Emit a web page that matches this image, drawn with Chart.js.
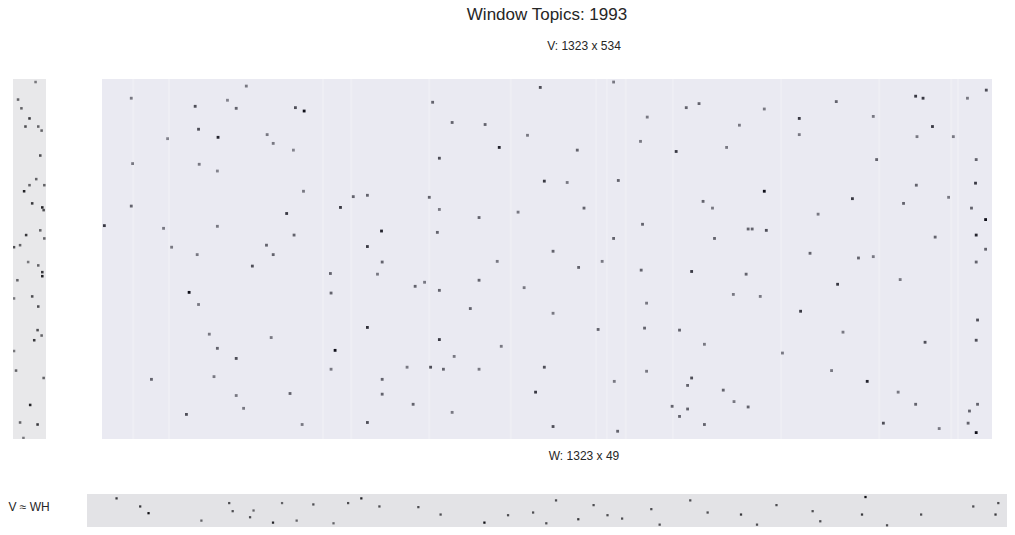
<!DOCTYPE html>
<html>
<head>
<meta charset="utf-8">
<title>Window Topics: 1993</title>
<script src="https://cdn.jsdelivr.net/npm/chart.js@4.4.1/dist/chart.umd.min.js"></script>
<style>
  body { margin: 0; width: 1015px; height: 535px; background: #fff; position: relative; overflow: hidden;
         font-family: "Liberation Sans", Arial, sans-serif; color: #262626; }
  .txt { position: absolute; white-space: nowrap; transform: translate(-50%, -50%); }
  canvas { position: absolute; }
</style>
</head>
<body>
<div class="txt" style="left:547px;top:15px;font-size:17px">Window Topics: 1993</div>
<div class="txt" style="left:584px;top:46px;font-size:12px">V: 1323 x 534</div>
<div class="txt" style="left:584px;top:456px;font-size:12px">W: 1323 x 49</div>
<div class="txt" style="left:29px;top:507px;font-size:12px">V ≈ WH</div>

<canvas id="wChart" style="left:13px;top:79px;width:33px;height:360px" width="33" height="360"></canvas>
<canvas id="vChart" style="left:102px;top:79px;width:890px;height:360px" width="890" height="360"></canvas>
<canvas id="hChart" style="left:87px;top:494px;width:920px;height:33px" width="920" height="33"></canvas>

<script>
// matrix shapes
const vShape = [1323, 534]; // columns, rows
const wShape = [49, 534];
const hShape = [1323, 49];

// strongest cells: [column, row, intensity 0..1]
const vDots = [
  [300,47,1],[199,43,.6],[172,86,.9],[287,42,.7],[245,82,.5],[143,74,.7],[43,28,.5],[45,125,.5],
  [144,126,.5],[284,105,.45],[97,88,.45],[186,31,.45],[138,40,.7],[214,10,.5],[254,95,.5],[171,136,.45],
  [590,101,.9],[569,67,.6],[853,107,.8],[651,12,.7],[868,42,.6],[887,36,.6],[501,117,.7],[706,105,.6],
  [491,34,.6],[520,64,.6],[632,83,.5],[800,92,.5],[947,68,.5],[928,101,.5],[760,4,.5],[810,56,.5],
  [1209,25,.8],[1220,28,.8],[1036,58,.8],[1234,70,.8],[1146,55,.5],[1091,33,.6],[1151,119,.6],[1299,119,.6],
  [1298,154,.8],[1036,82,.5],[1211,85,.5],[984,44,.5],[1286,28,.5],[1314,16,.7],[1265,85,.5],
  [129,316,1],[3,217,.8],[415,225,.9],[394,248,.8],[223,277,.7],[244,246,.6],[254,260,.6],[285,231,.6],
  [354,190,.8],[373,174,.6],[394,172,.6],[43,188,.6],[274,199,.8],[141,260,.5],[91,221,.5],[103,249,.5],
  [416,271,.6],[339,288,.6],[340,317,.6],[171,218,.5],[299,166,.5],[143,334,.5],[409,289,.5],
  [657,151,.8],[560,205,.6],[486,175,.6],[498,227,.6],[670,255,.6],[708,279,.6],[743,270,.5],[801,283,.6],
  [876,285,.8],[560,298,.6],[465,307,.6],[479,301,.5],[760,236,.6],[803,215,.6],[716,191,.6],[501,193,.5],
  [501,313,.6],[547,340,.6],[809,332,.5],[627,309,.5],[767,150,.6],[691,153,.5],[618,197,.5],[587,270,.5],
  [984,166,1],[1313,208,1],[1093,304,.8],[1115,177,.8],[1191,184,.6],[1299,231,.9],[1313,252,.6],[893,181,.6],
  [910,236,.6],[960,222,.6],[966,222,.6],[987,224,.7],[1052,258,.6],[1124,265,.6],[957,289,.6],[1210,157,.6],
  [1292,191,.6],[907,191,.5],[1258,175,.5],[1064,200,.5],[1146,263,.5],[1238,234,.6],[1299,271,.6],[978,322,.5],
  [1186,297,.5],[938,319,.5],
  [346,402,1],[394,368,.85],[199,414,.7],[171,399,.6],[73,445,.6],[125,497,.7],[279,466,.6],[416,445,.6],
  [416,467,.6],[394,509,.7],[166,441,.5],[297,512,.5],[210,488,.5],[199,469,.5],[159,378,.5],[340,430,.5],
  [251,383,.5],
  [501,386,.8],[488,427,.7],[644,464,.8],[657,427,.7],[670,515,.7],[737,371,.6],[806,369,.6],[858,372,.6],
  [870,454,.6],[876,443,.7],[858,500,.6],[870,489,.6],[507,430,.6],[462,482,.6],[520,494,.5],[560,430,.5],
  [523,411,.5],[593,396,.5],[761,448,.5],[809,433,.5],[847,485,.6],[453,427,.5],[766,522,.6],[670,347,.5],
  [1299,524,1],[1137,448,.9],[1038,344,.8],[1301,357,.7],[1223,390,.7],[1299,387,.7],[1161,510,.7],[1301,482,.6],
  [1209,482,.6],[960,486,.6],[923,461,.6],[895,512,.6],[939,478,.5],[1287,510,.6],[895,393,.5],[1101,375,.5],
  [1183,464,.5],[1289,492,.6],[1244,518,.5],[1084,432,.5],[1011,406,.5]
];

const wDots = [
  [33,4,.5],[7,30,.6],[12,43,.6],[24,58,.8],[18,70,.7],[37,70,.6],[42,76,.6],[40,113,.7],
  [16,166,.9],[24,157,.6],[34,148,.6],[43,190,.9],[45,194,.7],[28,184,.8],[19,231,.8],[40,224,.6],
  [1,249,.7],[10,246,.6],[43,286,.8],[43,292,.9],[6,298,.6],[37,276,.6],[28,322,.7],[37,337,.7],
  [1,325,.5],[36,372,.7],[31,387,.8],[42,380,.6],[1,403,.5],[4,432,.6],[25,483,.9],[36,512,.8],
  [45,443,.6],[10,509,.6],[15,532,.5],[22,271,.5],[46,236,.6],[46,157,.6]
];

const hDots = [
  [42,6,.8],[76,18,.8],[88,28,1],[204,13,.7],[209,25,.7],[234,34,.7],[267,42,.9],[325,15,.7],
  [164,39,.6],[301,39,.6],[354,43,.6],[239,24,.6],[280,13,.6],[394,6,.9],[375,13,.7],[420,18,.7],
  [476,19,.7],[508,30,.7],[571,42,1],[605,31,.7],[641,27,.7],[660,43,.7],[674,9,.7],[706,37,.8],
  [728,16,.7],[748,31,.7],[769,36,.7],[811,22,.7],[823,45,.7],[867,9,.7],[892,27,.7],[940,30,.8],
  [963,45,.7],[991,16,.7],[1043,25,.7],[1054,40,.7],[1119,4,1],[1114,30,.8],[1150,46,.7],[1199,30,.7],
  [1274,18,.7],[1306,30,.8],[1310,13,.7]
];

// columns that read lighter than the rest
const vLightCols = [45, 98, 327, 369, 485, 606, 733, 749, 777, 847, 1008, 1154, 1261, 1271];

// fills the plot area
const bgPlugin = {
  id: 'bg',
  beforeDatasetsDraw(chart, args, opts) {
    const { ctx, chartArea: a, scales: { x } } = chart;
    ctx.save();
    ctx.fillStyle = opts.color;
    ctx.fillRect(a.left, a.top, a.right - a.left, a.bottom - a.top);
    // pale column bands
    ctx.fillStyle = 'rgba(255,255,255,0.2)';
    (opts.lightCols || []).forEach(c => {
      const l = x.getPixelForValue(c), r = x.getPixelForValue(c + 3);
      ctx.fillRect(l, a.top, r - l, a.bottom - a.top);
    });
    ctx.restore();
  }
};

const shade = (v, blue) => {
  const g = Math.round(225 - 210 * v);
  return `rgb(${g},${g},${Math.min(255, g + blue)})`;
};

function makePanel(id, dots, shape, bgColor, blue, radius, lightCols) {
  new Chart(document.getElementById(id), {
    type: 'scatter',
    data: {
      datasets: [{
        data: dots.map(d => ({ x: d[0] + 0.5, y: d[1] + 0.5 })),
        pointStyle: 'rect',
        pointRadius: radius,
        borderWidth: 0,
        backgroundColor: dots.map(d => shade(d[2], blue))
      }]
    },
    options: {
      responsive: false,
      animation: false,
      events: [],
      layout: { padding: 0, autoPadding: false },
      scales: {
        x: { type: 'linear', min: 0, max: shape[0], display: false },
        y: { type: 'linear', min: 0, max: shape[1], reverse: true, display: false }
      },
      plugins: {
        legend: { display: false },
        tooltip: { enabled: false },
        bg: { color: bgColor, lightCols }
      }
    },
    plugins: [bgPlugin]
  });
}

makePanel('vChart', vDots, vShape, '#eaeaf2', 10, 2, vLightCols);
makePanel('wChart', wDots, wShape, '#e8e8ea', 4, 1.8, []);
makePanel('hChart', hDots, hShape, '#e3e3e6', 4, 1.6, []);
</script>
</body>
</html>
